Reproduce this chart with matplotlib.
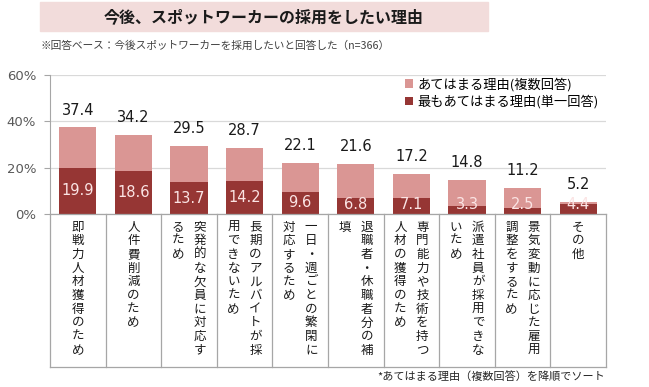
import matplotlib
matplotlib.use("Agg")
import matplotlib.pyplot as plt
import matplotlib.transforms as mtransforms
from matplotlib.lines import Line2D
from matplotlib.patches import Rectangle
import numpy as np

plt.rcParams["font.family"] = ["Noto Sans CJK JP", "DejaVu Sans"]

# -------------------------------------------------------------------------
# Dados
# -------------------------------------------------------------------------
title = "今後、スポットワーカーの採用をしたい理由"
subtitle = "※回答ベース：今後スポットワーカーを採用したいと回答した（n=366）"
footnote = "*あてはまる理由（複数回答）を降順でソート"

# cada rótulo: colunas verticais (direita -> esquerda)
labels = [
    ["即戦力人材獲得のため"],
    ["人件費削減のため"],
    ["突発的な欠員に対応す", "るため"],
    ["長期のアルバイトが採", "用できないため"],
    ["一日・週ごとの繁閑に", "対応するため"],
    ["退職者・休職者分の補", "填"],
    ["専門能力や技術を持つ", "人材の獲得のため"],
    ["派遣社員が採用できな", "いため"],
    ["景気変動に応じた雇用", "調整をするため"],
    ["その他"],
]
multi = [37.4, 34.2, 29.5, 28.7, 22.1, 21.6, 17.2, 14.8, 11.2, 5.2]
single = [19.9, 18.6, 13.7, 14.2, 9.6, 6.8, 7.1, 3.3, 2.5, 4.4]
legend_names = ["あてはまる理由(複数回答)", "最もあてはまる理由(単一回答)"]

C_LIGHT = "#DA9694"
C_DARK = "#963634"
C_GRID = "#D9D9D9"
C_SEP = "#A6A6A6"

W, H = 649, 387
fig = plt.figure(figsize=(W / 100, H / 100), dpi=100)


def fy(px):
    return (H - px) / H


def fx(px):
    return px / W


# faixa do título
fig.patches.append(Rectangle((fx(40), fy(31)), fx(448), 29 / H,
                             transform=fig.transFigure, color="#F2DCDB", zorder=0))
fig.text(fx(264), fy(17), title, ha="center", va="center",
         fontsize=11.5, fontweight="bold", color="#1a1a1a")
fig.text(fx(40), fy(46), subtitle, ha="left", va="center",
         fontsize=7.7, color="#404040")

ax = fig.add_axes([fx(50), fy(214), fx(556), 139 / H])
x = np.arange(len(multi))
bw = 0.67
ax.bar(x, multi, width=bw, color=C_LIGHT, label=legend_names[0], zorder=2)
ax.bar(x, single, width=bw, color=C_DARK, label=legend_names[1], zorder=3)

ax.set_xlim(-0.5, len(multi) - 0.5)
ax.set_ylim(0, 60)
ax.set_yticks([0, 20, 40, 60])
ax.set_yticklabels(["0%", "20%", "40%", "60%"], family="DejaVu Sans",
                   fontsize=9.5, color="#595959")
ax.set_xticks([])
ax.grid(axis="y", color=C_GRID, linewidth=0.9, zorder=0)
for s in ["top", "right", "bottom"]:
    ax.spines[s].set_visible(False)
ax.spines["left"].set_color(C_SEP)
ax.tick_params(axis="y", length=4, color=C_SEP, pad=6)

# rótulos de valor
for xi, m, s in zip(x, multi, single):
    ax.annotate(f"{m:.1f}", (xi, m), xytext=(0, 7), textcoords="offset points",
                ha="center", va="bottom", family="DejaVu Sans",
                fontsize=10.5, color="#1a1a1a")
    ax.text(xi, max(s / 2, 4.3), f"{s:.1f}", ha="center", va="center",
            family="DejaVu Sans", fontsize=10.5, color="#FBE4E4", zorder=4)

# área dos rótulos de categoria (tabela)
trans = mtransforms.blended_transform_factory(ax.transData, fig.transFigure)
for i in range(len(multi) + 1):
    xs = i - 0.5
    fig.add_artist(Line2D([xs, xs], [fy(214), fy(367)], transform=trans,
                          color=C_SEP, linewidth=0.9))
fig.add_artist(Line2D([-0.5, len(multi) - 0.5], [fy(214), fy(214)], transform=trans,
                      color=C_SEP, linewidth=0.9))
fig.add_artist(Line2D([-0.5, len(multi) - 0.5], [fy(367), fy(367)], transform=trans,
                      color=C_SEP, linewidth=0.9))

col_off = 11 / (556 / len(multi))
for i, cols in enumerate(labels):
    n = len(cols)
    for j, col in enumerate(cols):
        if n == 1:
            cx = i
        else:
            cx = i + col_off * (1 if j == 0 else -1)
        for k, ch in enumerate(col):
            fig.text(cx, fy(227 + k * 13.7), ch, transform=trans,
                     ha="center", va="center", fontsize=9, color="#1a1a1a")

leg = ax.legend(loc="upper left", bbox_to_anchor=(fx(400 - 50) / fx(556), 1.02),
                frameon=False, fontsize=9.5, handlelength=0.6, handleheight=0.6,
                handletextpad=0.3, labelspacing=0.3, borderaxespad=0.0)

fig.text(fx(605), fy(376), footnote, ha="right", va="center",
         fontsize=8, color="#262626")

fig.savefig("out.png", dpi=100)
